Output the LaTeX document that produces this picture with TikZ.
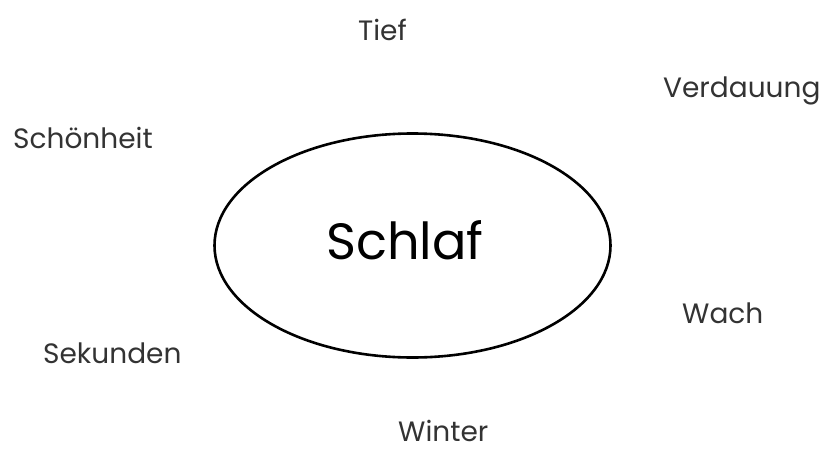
\documentclass[tikz,border=0pt]{standalone}
\usepackage{fontspec}
\setmainfont{Poppins}
\usetikzlibrary{shapes.geometric}
\tikzset{
  word/.style={font=\fontsize{28}{32}\selectfont, text=black!80, inner sep=0pt, anchor=base west},
  hub/.style={draw, line width=2.6pt, ellipse, minimum width=396pt, minimum height=224pt},
  hubtext/.style={font=\fontsize{51}{58}\selectfont, inner sep=0pt, anchor=base west}
}

\begin{document}
\begin{tikzpicture}[x=1pt,y=-1pt]
    \useasboundingbox (0,0) rectangle (825,450);
    \node[hub] (schlaf) at (412.5,245.5) {};
    \node[hubtext] (schlaftext) at (326,259) {Schlaf};
    \node[word] (tief) at (358,40) {Tief};
    \node[word] (verdauung) at (663,97) {Verdauung};
    \node[word] (schoenheit) at (13,148) {Schönheit};
    \node[word] (wach) at (682,323) {Wach};
    \node[word] (sekunden) at (43,363) {Sekunden};
    \node[word] (winter) at (398,441) {Winter};
\end{tikzpicture}
\end{document}
